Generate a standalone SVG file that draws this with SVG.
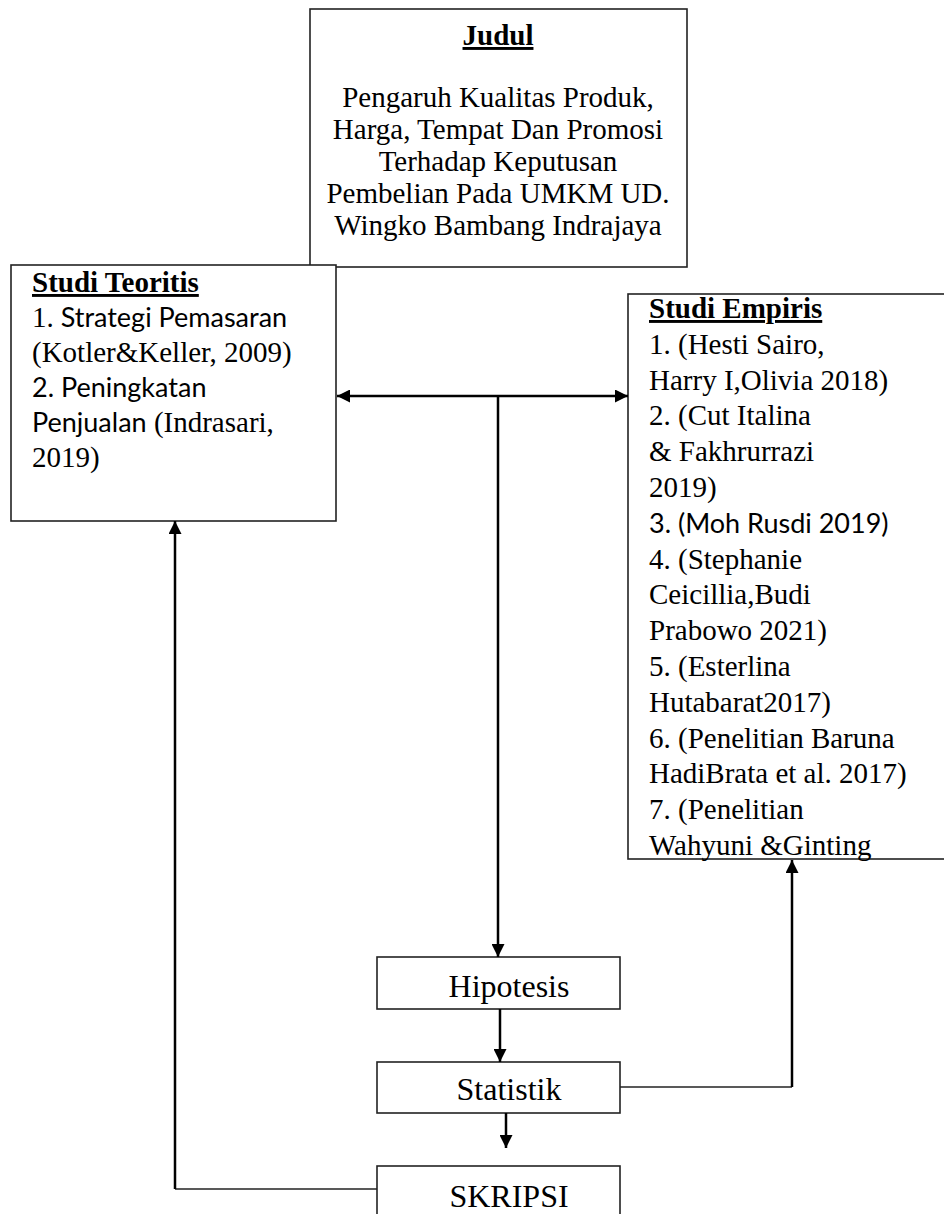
<svg xmlns="http://www.w3.org/2000/svg" width="944" height="1214" viewBox="0 0 944 1214">
<style>
.box{fill:#fff;stroke:#222;stroke-width:1.6}
.t{font-family:"Liberation Serif","Times New Roman",serif;font-size:29px;fill:#000}
.c{font-family:Lato,"Liberation Sans",sans-serif;font-size:27px;fill:#000}
.b{font-weight:bold;text-decoration:underline}
.big{font-family:"Liberation Serif","Times New Roman",serif;font-size:32px;fill:#000}
.ln{fill:none;stroke:#000;stroke-width:2.5}
.thin{fill:none;stroke:#222;stroke-width:1.6}
</style>
<defs>
<marker id="ah" viewBox="0 0 10 10" refX="10" refY="5" markerWidth="13" markerHeight="13" markerUnits="userSpaceOnUse" orient="auto-start-reverse">
<path d="M0,0 L10,5 L0,10 z" fill="#000"/>
</marker>
</defs>

<g id="judul">
<rect class="box" x="310" y="9" width="377" height="258"/>
<text class="t b" x="498" y="45" text-anchor="middle">Judul</text>
<text class="t" x="498" y="107" text-anchor="middle">Pengaruh Kualitas Produk,</text>
<text class="t" x="498" y="139" text-anchor="middle">Harga, Tempat Dan Promosi</text>
<text class="t" x="498" y="171" text-anchor="middle">Terhadap Keputusan</text>
<text class="t" x="498" y="203" text-anchor="middle">Pembelian Pada UMKM UD.</text>
<text class="t" x="498" y="235" text-anchor="middle">Wingko Bambang Indrajaya</text>
</g>

<g id="teoritis">
<rect class="box" x="11" y="265" width="325" height="256"/>
<text class="t b" x="32" y="292">Studi Teoritis</text>
<text x="32" y="327"><tspan class="t">1.</tspan><tspan class="c"> Strategi Pemasaran</tspan></text>
<text class="t" x="32" y="362">(Kotler&amp;Keller, 2009)</text>
<text class="c" x="32" y="397">2. Peningkatan</text>
<text x="32" y="432"><tspan class="c">Penjualan</tspan><tspan class="t"> (Indrasari,</tspan></text>
<text class="t" x="32" y="467">2019)</text>
</g>

<g id="empiris">
<rect class="box" x="628" y="294" width="320" height="565"/>
<text class="t b" x="649" y="318">Studi Empiris</text>
<text class="t" x="649" y="354">1. (Hesti Sairo,</text>
<text class="t" x="649" y="390">Harry I,Olivia 2018)</text>
<text class="t" x="649" y="425">2. (Cut Italina</text>
<text class="t" x="649" y="461">&amp; Fakhrurrazi</text>
<text class="t" x="649" y="497">2019)</text>
<text class="c" x="649" y="533">3. (Moh Rusdi 2019)</text>
<text class="t" x="649" y="569">4. (Stephanie</text>
<text class="t" x="649" y="604">Ceicillia,Budi</text>
<text class="t" x="649" y="640">Prabowo 2021)</text>
<text class="t" x="649" y="676">5. (Esterlina</text>
<text class="t" x="649" y="712">Hutabarat2017)</text>
<text class="t" x="649" y="748">6. (Penelitian Baruna</text>
<text class="t" x="649" y="783">HadiBrata et al. 2017)</text>
<text class="t" x="649" y="819">7. (Penelitian</text>
<text class="t" x="649" y="855">Wahyuni &amp;Ginting</text>
</g>

<g id="hipotesis">
<rect class="box" x="377" y="957" width="243" height="52"/>
<text class="big" x="509" y="997" text-anchor="middle">Hipotesis</text>
</g>

<g id="statistik">
<rect class="box" x="377" y="1062" width="243" height="51"/>
<text class="big" x="509" y="1100" text-anchor="middle">Statistik</text>
</g>

<g id="skripsi">
<rect class="box" x="377" y="1166" width="243" height="60"/>
<text class="big" x="509" y="1207" text-anchor="middle">SKRIPSI</text>
</g>

<g id="connectors">
<line class="ln" x1="337" y1="396" x2="628" y2="396" marker-start="url(#ah)" marker-end="url(#ah)"/>
<line class="ln" x1="498" y1="396" x2="498" y2="957" marker-end="url(#ah)"/>
<line class="ln" x1="500" y1="1009" x2="500" y2="1062" marker-end="url(#ah)"/>
<line class="ln" x1="506" y1="1113" x2="506" y2="1148" marker-end="url(#ah)"/>
<polyline class="thin" points="620,1087 792,1087"/>
<line class="ln" x1="792" y1="1087" x2="792" y2="860" marker-end="url(#ah)"/>
<polyline class="thin" points="377,1189 175,1189"/>
<line class="ln" x1="175" y1="1189" x2="175" y2="521" marker-end="url(#ah)"/>
</g>
</svg>
